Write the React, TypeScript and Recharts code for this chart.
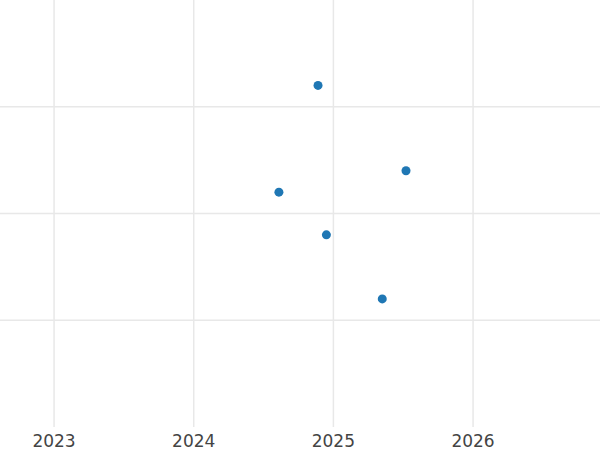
import { ScatterChart, Scatter, XAxis, YAxis, CartesianGrid } from 'recharts';

const years = [2024.89, 2025.52, 2024.61, 2024.95, 2025.35];
const values = [3.2, 2.4, 2.2, 1.8, 1.2];
const xTicks = [2023, 2024, 2025, 2026];
const yTicks = [1, 2, 3];

const points = years.map((year, i) => ({ year, value: values[i] }));

export default function App() {
  return (
    <div style={{ position: 'absolute', top: 0, left: 0, width: 600, height: 450, background: '#fff' }}>
      <ScatterChart
        width={600}
        height={450}
        margin={{ top: 0, right: 0, left: 0, bottom: 0 }}
      >
        <CartesianGrid stroke="#e8e8e8" strokeWidth={1.5} syncWithTicks />
        <XAxis
          type="number"
          dataKey="year"
          domain={[2022.613, 2026.909]}
          ticks={xTicks}
          height={23}
          axisLine={false}
          tickLine={false}
          tick={{ fill: '#444', fontSize: 17, fontFamily: 'DejaVu Sans' }}
          allowDataOverflow
        />
        <YAxis type="number" dataKey="value" domain={[0, 4]} ticks={yTicks} width={0} hide />
        <Scatter
          data={points}
          fill="#1f77b4"
          shape={(props: any) => <circle cx={props.cx} cy={props.cy} r={4.5} fill="#1f77b4" />}
          isAnimationActive={false}
        />
      </ScatterChart>
    </div>
  );
}
